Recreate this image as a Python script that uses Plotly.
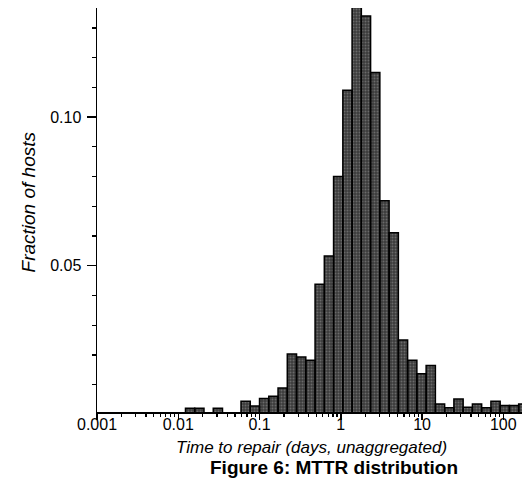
import plotly.graph_objects as go

# ---- data ----
# bin index k: bin spans 10**(-1 + W*k) .. 10**(-1 + W*(k+1)) days
bin_index = [-8, -7, -6, -5, -4, -3, -2, -1, 0, 1, 2, 3, 4, 5, 6, 7, 8, 9, 10,
             11, 12, 13, 14, 15, 16, 17, 18, 19, 20, 21, 22, 23, 24, 25, 26, 27, 28]
fraction = [0.0021, 0.0021, 0.0, 0.0021, 0.0, 0.0, 0.0044, 0.0028, 0.0053, 0.0061,
            0.0089, 0.0203, 0.0193, 0.0182, 0.0438, 0.0533, 0.080, 0.109, 0.137,
            0.134, 0.115, 0.0719, 0.0611, 0.025, 0.0182, 0.0137, 0.0164, 0.0035,
            0.0022, 0.0052, 0.0024, 0.0035, 0.0022, 0.0044, 0.003, 0.003, 0.0035]
BIN_LOG_WIDTH = 0.1139

x_tick_vals = [0.001, 0.01, 0.1, 1, 10, 100]
x_tick_text = ["0.001", "0.01", "0.1", "1", "10", "100"]
y_tick_vals = [0.05, 0.10]
y_tick_text = ["0.05", "0.10"]

# ---- build bar outlines ----
xs, ys = [], []
for k, v in zip(bin_index, fraction):
    if v <= 0:
        continue
    lo = 10 ** (-1 + BIN_LOG_WIDTH * k)
    hi = 10 ** (-1 + BIN_LOG_WIDTH * (k + 1))
    xs += [lo, lo, hi, hi, lo, None]
    ys += [0, v, v, 0, 0, None]

minor_x = [m * 10 ** e for e in range(-3, 3) for m in range(2, 10)]

FONT = "Liberation Sans, Arial, Helvetica, sans-serif"

fig = go.Figure()
fig.add_trace(go.Scatter(
    x=xs, y=ys, mode="lines", fill="toself",
    fillcolor="#555555",
    fillpattern=dict(shape=".", fgcolor="#9a9a9a", bgcolor="#3a3a3a", size=3, solidity=0.35),
    line=dict(color="black", width=1.5),
    hoverinfo="skip", showlegend=False,
))

fig.update_layout(
    width=522, height=489,
    margin=dict(l=97, r=0, t=8, b=77, autoexpand=False),
    paper_bgcolor="white", plot_bgcolor="white",
    font=dict(family=FONT, color="black"),
    showlegend=False,
    hovermode=False,
    xaxis=dict(
        type="log", range=[-3, 2.23],
        tickmode="array", tickvals=x_tick_vals, ticktext=x_tick_text,
        ticks="outside", ticklen=6, tickwidth=1.5, tickcolor="black",
        showline=True, linecolor="black", linewidth=1.5,
        showgrid=False, zeroline=False,
        tickfont=dict(size=16, family=FONT),
        ticklabelstandoff=-9,
        minor=dict(tickmode="array", tickvals=minor_x, ticks="outside",
                   ticklen=3, tickwidth=1.2, tickcolor="black", showgrid=False),
    ),
    yaxis=dict(
        range=[0.0008, 0.1367],
        tickmode="array", tickvals=y_tick_vals, ticktext=y_tick_text,
        ticks="outside", ticklen=9, tickwidth=1.5, tickcolor="black",
        showline=True, linecolor="black", linewidth=1.5,
        showgrid=False, zeroline=False,
        tickfont=dict(size=16, family=FONT),
        ticklabelstandoff=2,
        minor=dict(tickmode="linear", tick0=0, dtick=0.01, ticks="outside",
                   ticklen=4, tickwidth=1.2, tickcolor="black", showgrid=False),
    ),
    annotations=[
        dict(text="<i>Time to repair (days, unaggregated)</i>", xref="paper", yref="paper",
             x=0.505, y=-0.087, xanchor="center", yanchor="middle", showarrow=False,
             font=dict(size=17, family=FONT)),
        dict(text="<b>Figure 6: MTTR distribution</b>", xref="paper", yref="paper",
             x=0.5565, y=-0.137, xanchor="center", yanchor="middle", showarrow=False,
             font=dict(size=19, family=FONT)),
        dict(text="<i>Fraction of hosts</i>", xref="paper", yref="paper",
             x=-0.162, y=0.519, xanchor="center", yanchor="middle", showarrow=False,
             textangle=-90, font=dict(size=19, family=FONT)),
    ],
)

fig.write_html(
    "out.html",
    config={"displayModeBar": False, "staticPlot": True},
    post_script="document.body.style.margin='0';document.body.style.overflow='hidden';",
)
